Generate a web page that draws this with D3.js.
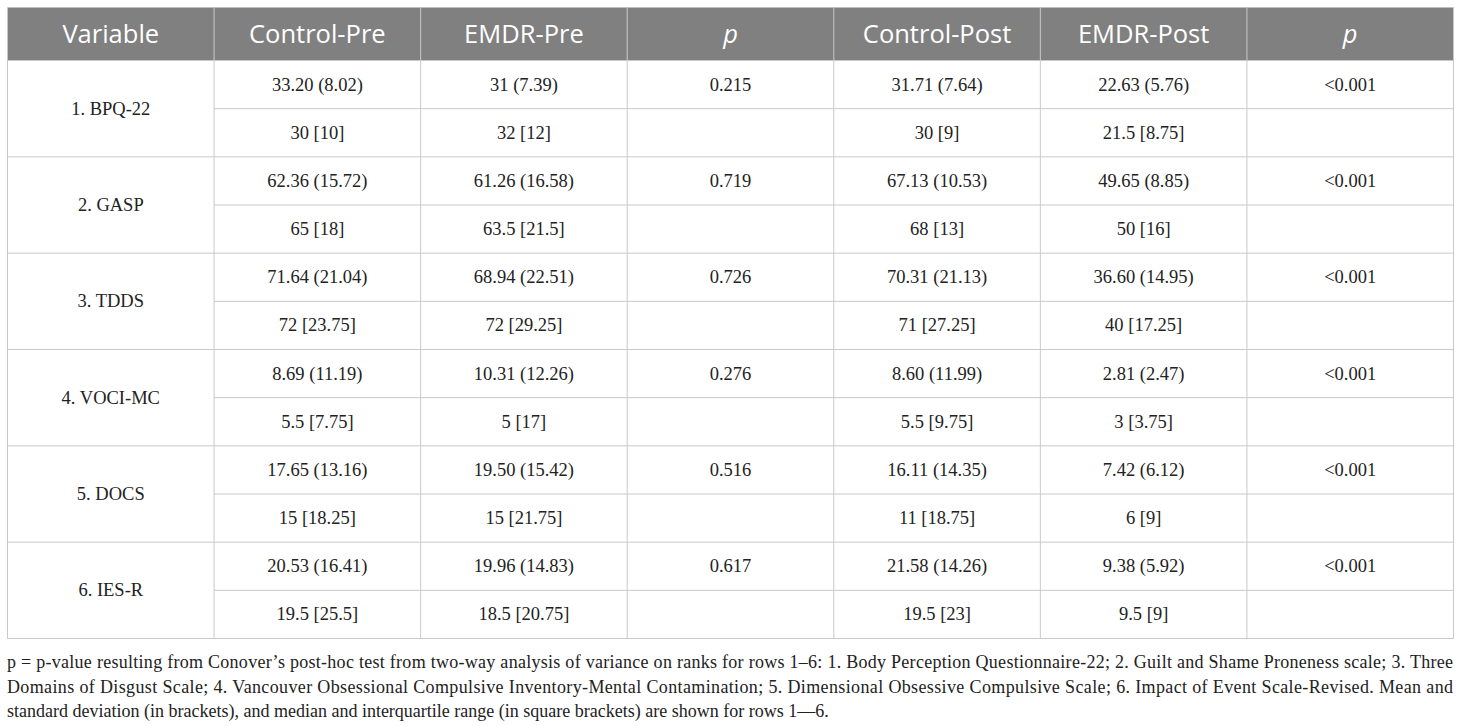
<!DOCTYPE html>
<html>
  <head>
    <meta charset="utf-8" />
    <script src="https://d3js.org/d3.v7.min.js"></script>
    <style>
      body { margin: 0; background: #fff; }
      svg text { dominant-baseline: central; }
    </style>
  </head>
  <body>
    <svg id="table"></svg>

    <script>
      // Table content
      var headers = ["Variable", "Control-Pre", "EMDR-Pre", "p", "Control-Post", "EMDR-Post", "p"];
      var variables = ["1. BPQ-22", "2. GASP", "3. TDDS", "4. VOCI-MC", "5. DOCS", "6. IES-R"];

      // mean (sd) / median [iqr] per group
      var controlPre = ["33.20 (8.02)", "30 [10]", "62.36 (15.72)", "65 [18]", "71.64 (21.04)", "72 [23.75]",
        "8.69 (11.19)", "5.5 [7.75]", "17.65 (13.16)", "15 [18.25]", "20.53 (16.41)", "19.5 [25.5]"];
      var emdrPre = ["31 (7.39)", "32 [12]", "61.26 (16.58)", "63.5 [21.5]", "68.94 (22.51)", "72 [29.25]",
        "10.31 (12.26)", "5 [17]", "19.50 (15.42)", "15 [21.75]", "19.96 (14.83)", "18.5 [20.75]"];
      var pPre = ["0.215", "", "0.719", "", "0.726", "", "0.276", "", "0.516", "", "0.617", ""];
      var controlPost = ["31.71 (7.64)", "30 [9]", "67.13 (10.53)", "68 [13]", "70.31 (21.13)", "71 [27.25]",
        "8.60 (11.99)", "5.5 [9.75]", "16.11 (14.35)", "11 [18.75]", "21.58 (14.26)", "19.5 [23]"];
      var emdrPost = ["22.63 (5.76)", "21.5 [8.75]", "49.65 (8.85)", "50 [16]", "36.60 (14.95)", "40 [17.25]",
        "2.81 (2.47)", "3 [3.75]", "7.42 (6.12)", "6 [9]", "9.38 (5.92)", "9.5 [9]"];
      var pPost = ["<0.001", "", "<0.001", "", "<0.001", "", "<0.001", "", "<0.001", "", "<0.001", ""];

      var footnote = [
        "p = p-value resulting from Conover\u2019s post-hoc test from two-way analysis of variance on ranks for rows 1\u20136: 1. Body Perception Questionnaire-22; 2. Guilt and Shame Proneness scale; 3. Three",
        "Domains of Disgust Scale; 4. Vancouver Obsessional Compulsive Inventory-Mental Contamination; 5. Dimensional Obsessive Compulsive Scale; 6. Impact of Event Scale-Revised. Mean and",
        "standard deviation (in brackets), and median and interquartile range (in square brackets) are shown for rows 1\u20146."
      ];
    </script>

    <script>
      var width = 1460;
      var height = 726;
      // table box
      var tLeft = 7.5, tRight = 1453.5, tTop = 7.5, headH = 53, tBottom = 638.5;
      var lineColor = "#c9c9c9";
      var serif = "'Liberation Serif', 'Times New Roman', serif";
      var sans = "'Open Sans', 'Noto Sans', sans-serif";

      var svg = d3.select("#table").attr("width", width).attr("height", height);

      var columns = [variables, controlPre, emdrPre, pPre, controlPost, emdrPost, pPost];

      var x = d3.scaleBand().domain(d3.range(headers.length)).range([tLeft, tRight]);
      var yGroup = d3.scaleBand().domain(d3.range(variables.length)).range([tTop + headH, tBottom]);
      var ySub = d3.scaleBand().domain(d3.range(controlPre.length)).range([tTop + headH, tBottom]);

      // header background
      svg.append("rect")
        .attr("x", tLeft).attr("y", tTop)
        .attr("width", tRight - tLeft).attr("height", headH)
        .attr("fill", "#808080");

      // header labels
      svg.append("g").selectAll("text")
        .data(headers)
        .join("text")
        .attr("x", (d, i) => x(i) + x.bandwidth() / 2)
        .attr("y", tTop + headH / 2 - 1)
        .attr("text-anchor", "middle")
        .attr("fill", "#fff")
        .style("font-family", sans)
        .style("font-size", "25.5px")
        .style("font-style", (d) => (d === "p" ? "italic" : "normal"))
        .text((d) => d);

      // sub-row lines (only across data columns)
      svg.append("g").selectAll("line")
        .data(variables)
        .join("line")
        .attr("x1", x(1)).attr("x2", tRight)
        .attr("y1", (d, i) => ySub(i * 2 + 1))
        .attr("y2", (d, i) => ySub(i * 2 + 1))
        .attr("stroke", lineColor);

      // group lines
      svg.append("g").selectAll("line")
        .data(d3.range(variables.length + 1))
        .join("line")
        .attr("x1", tLeft).attr("x2", tRight)
        .attr("y1", (i) => (i < variables.length ? yGroup(i) : tBottom))
        .attr("y2", (i) => (i < variables.length ? yGroup(i) : tBottom))
        .attr("stroke", lineColor);

      // vertical lines
      svg.append("g").selectAll("line")
        .data(d3.range(headers.length + 1))
        .join("line")
        .attr("x1", (i) => (i < headers.length ? x(i) : tRight))
        .attr("x2", (i) => (i < headers.length ? x(i) : tRight))
        .attr("y1", tTop).attr("y2", tBottom)
        .attr("stroke", lineColor);

      // variable names
      svg.append("g").selectAll("text")
        .data(variables)
        .join("text")
        .attr("x", x(0) + x.bandwidth() / 2)
        .attr("y", (d, i) => yGroup(i) + yGroup.bandwidth() / 2)
        .attr("text-anchor", "middle")
        .attr("fill", "#222")
        .style("font-family", serif)
        .style("font-size", "18.5px")
        .text((d) => d);

      // data cells
      columns.slice(1).forEach(function (col, c) {
        svg.append("g").selectAll("text")
          .data(col)
          .join("text")
          .attr("x", x(c + 1) + x.bandwidth() / 2)
          .attr("y", (d, i) => ySub(i) + ySub.bandwidth() / 2)
          .attr("text-anchor", "middle")
          .attr("fill", "#222")
          .style("font-family", serif)
          .style("font-size", "18.5px")
          .text((d) => d);
      });

      // footnote
      svg.append("g").selectAll("text")
        .data(footnote)
        .join("text")
        .attr("x", tLeft - 0.5)
        .attr("y", (d, i) => 662 + i * 24.5)
        .attr("fill", "#222")
        .style("font-family", serif)
        .style("font-size", "18px")
        .attr("textLength", (d, i) => (i < 2 ? tRight - tLeft : null))
        .attr("lengthAdjust", "spacing")
        .text((d) => d);
    </script>
  </body>
</html>
